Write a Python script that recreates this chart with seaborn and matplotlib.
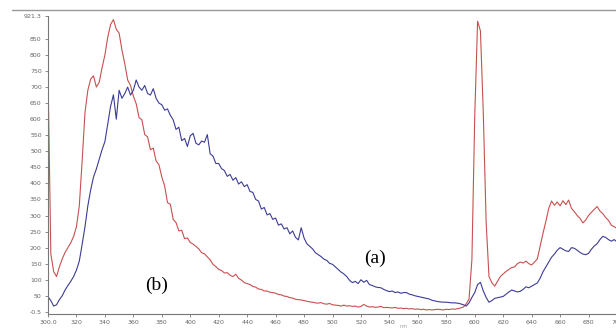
import numpy as np
import pandas as pd
import matplotlib
matplotlib.use('Agg')
import matplotlib.pyplot as plt
import seaborn as sns
from matplotlib.lines import Line2D

sns.set_theme(style="white")

# wavelength grid, 2 nm steps from 300 to 700
wavelength = np.arange(300, 701, 2)

# spectrum (b), red
red_b = [
    740, 180, 125, 110, 140, 165, 185, 200, 215, 235,
    265, 330, 470, 620, 690, 725, 735, 700, 715, 760,
    800, 855, 895, 910, 880, 868, 815, 772, 722, 705,
    672, 648, 605, 598, 552, 545, 505, 510, 470, 458,
    420, 392, 340, 335, 288, 278, 252, 254, 228, 230,
    216, 211, 204, 196, 184, 181, 171, 162, 148, 141,
    132, 129, 121, 122, 114, 110, 117, 104, 99, 91,
    88, 85, 79, 77, 71, 70, 65, 65, 61, 60,
    58, 54, 53, 49, 48, 44, 43, 39, 38, 37,
    35, 33, 31, 30, 28, 27, 29, 25, 24, 26,
    22, 21, 20, 18, 21, 18, 19, 17, 18, 15,
    17, 23, 18, 15, 16, 14, 15, 17, 13, 14,
    13, 12, 14, 11, 12, 10, 11, 9, 10, 8,
    9, 7, 8, 6, 7, 6, 7, 8, 7, 6,
    8, 7, 9, 8, 10, 12, 15, 25, 40, 163,
    610, 905, 875, 620, 280, 110, 91, 80, 95, 110,
    118, 126, 132, 138, 140, 150, 155, 152, 158, 150,
    146, 155, 165, 205, 245, 282, 322, 345, 332, 342,
    330, 346, 334, 348, 322, 312, 300, 291, 277, 286,
    300, 310, 319, 328, 314, 306, 294, 285, 270, 265,
    260,
]

# spectrum (a), blue
blue_a = [
    47, 35, 18, 22, 38, 50, 68, 82, 95, 110,
    130, 158, 210, 265, 330, 380, 420, 445, 475, 505,
    530, 585, 640, 676, 600, 690, 665, 680, 700, 675,
    690, 722, 700, 690, 705, 680, 675, 695, 665, 650,
    645, 628, 632, 612, 598, 568, 575, 533, 540, 515,
    548, 556, 525, 520, 532, 528, 552, 492, 485, 462,
    462, 446, 440, 422, 428, 410, 418, 398, 405, 390,
    396, 375, 372, 350, 345, 320, 325, 302, 306, 288,
    292, 270, 274, 258, 262, 243, 252, 232, 224, 262,
    230, 212, 204, 196, 184, 178, 172, 164, 160, 151,
    148, 140, 132, 124, 118, 110, 98, 91, 95, 88,
    100, 92, 98, 85, 82, 78, 76, 75, 70, 66,
    63, 65, 60, 62, 58, 60, 60, 55, 53, 50,
    48, 46, 44, 42, 40, 36, 34, 32, 31, 30,
    30, 29, 28, 28, 27, 25, 22, 18, 28, 45,
    60, 85, 92, 65, 45, 30, 35, 42, 44, 46,
    48, 55, 62, 68, 65, 62, 64, 70, 78, 75,
    80, 85, 90, 105, 125, 140, 155, 170, 180, 192,
    200, 195, 190, 188, 200, 198, 192, 185, 180, 178,
    182, 195, 205, 212, 225, 235, 232, 225, 220, 225,
    218,
]

y_ticks = [-0.5, 50, 100, 150, 200, 250, 300, 350, 400, 450, 500,
           550, 600, 650, 700, 750, 800, 850, 921.3]
y_labels = ['-0.5', '50', '100', '150', '200', '250', '300', '350', '400',
            '450', '500', '550', '600', '650', '700', '750', '800', '850', '921.3']
x_ticks = list(range(300, 701, 20))
x_labels = ['300.0'] + [str(t) for t in x_ticks[1:]]

fig = plt.figure(figsize=(6.16, 3.30), dpi=100)
ax = fig.add_axes([48 / 616, 1 - 314 / 330, 569 / 616, 298 / 330])

sns.lineplot(x=wavelength, y=red_b, ax=ax, color='#c8504f', lw=0.8, estimator=None)
sns.lineplot(x=wavelength, y=blue_a, ax=ax, color='#3c3c96', lw=0.8, estimator=None)

ax.set_xlim(300, 700)
ax.set_ylim(-6.7, 921.3)
ax.set_yticks(y_ticks)
ax.set_yticklabels(y_labels)
ax.set_xticks(x_ticks)
ax.set_xticklabels(x_labels)
ax.tick_params(axis='both', labelsize=4.5, labelcolor='#666666', color='#777777',
               length=2.5, width=0.6, pad=2, direction='out')
ax.tick_params(axis='both', which='both', bottom=True, left=True)
for s in ['top', 'right']:
    ax.spines[s].set_visible(False)
for s in ['left', 'bottom']:
    ax.spines[s].set_color('#777777')
    ax.spines[s].set_linewidth(0.8)
ax.set_facecolor('white')

fig.text(375 / 616, 1 - 258 / 330, '(a)', ha='center', va='center',
         family='Liberation Serif', fontsize=14, color='black')
fig.text(157 / 616, 1 - 285 / 330, '(b)', ha='center', va='center',
         family='Liberation Serif', fontsize=14, color='black')
fig.text(403 / 616, 1 - 327 / 330, 'nm', ha='center', va='center',
         fontsize=3.5, color='#999999')

# frame line above the plot
fig.add_artist(Line2D([12 / 616, 1], [1 - 10 / 330, 1 - 10 / 330],
                      color='#999999', lw=1.0, transform=fig.transFigure))

fig.savefig('out.png', dpi=100)
